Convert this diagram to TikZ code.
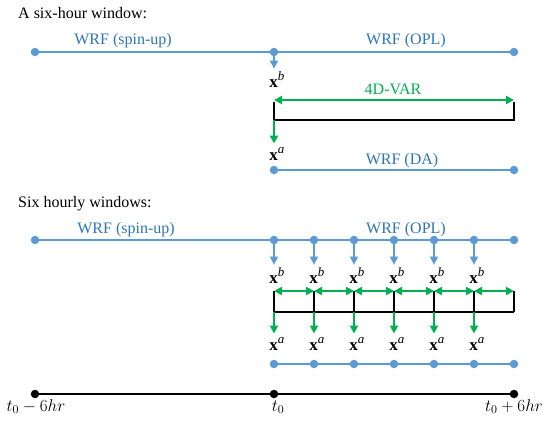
\RequirePackage{fix-cm}
\documentclass[tikz,border=0pt]{standalone}
\usepackage{fontspec}
\setmainfont{Liberation Serif}
\usetikzlibrary{arrows.meta, positioning}
\definecolor{WrfBlue}{RGB}{91,155,213}
\definecolor{WrfText}{RGB}{46,117,182}
\definecolor{VarGreen}{RGB}{0,176,80}
\newcommand{\statevec}[1]{$\mathbf{x}^{\mbox{\fontsize{13}{15}\selectfont\itshape #1}}$}

\begin{document}
\begin{tikzpicture}[
  x=1pt, y=-1pt,
  font=\fontsize{16}{19}\selectfont,
  dot/.style={circle, fill=#1, inner sep=0pt, minimum size=8.5pt},
  head/.style={anchor=base west, inner sep=0pt},
  lbl/.style={anchor=base, inner sep=0pt, text=WrfText},
  vec/.style={anchor=base, inner sep=0pt, font=\fontsize{17}{20}\selectfont},
  run/.style={draw=WrfBlue, line width=2pt},
  barr/.style={draw=WrfBlue, line width=1.6pt, -{Triangle[length=8pt, width=8pt]}, shorten >=3pt},
  garr/.style={draw=VarGreen, line width=2pt, -{Triangle[length=8pt, width=8pt]}, shorten >=4pt},
  gdbl/.style={draw=VarGreen, line width=2pt, {Triangle[length=8pt, width=8pt]}-{Triangle[length=8pt, width=8pt]}},
  brk/.style={draw=black, line width=2pt}
]
  \useasboundingbox (0,0) rectangle (550,423);

  % a six-hour window
  \node[head] (title1) at (18,18) {A six-hour window:};
  \node[dot=WrfBlue] (s1) at (35,52) {};
  \node[dot=WrfBlue] (m1) at (274,52) {};
  \node[dot=WrfBlue] (e1) at (514,52) {};
  \draw[run] (s1) -- (m1) -- (e1);
  \node[lbl] (spin1) at (123,44) {WRF (spin-up)};
  \node[lbl] (opl1) at (406,44) {WRF (OPL)};

  \node[vec] (xb1) at (277,87) {\statevec{b}};
  \draw[barr] (m1) -- (m1 |- xb1.north);

  \coordinate (bl1) at (274,102);
  \coordinate (br1) at (514,102);
  \coordinate (bb1) at (274,120);
  \draw[brk] (bl1) -- (bb1) -| (br1);
  \draw[gdbl] (274,100) -- (514,100);
  \node[anchor=base, inner sep=0pt, text=VarGreen] (var) at (393,94) {4D-VAR};

  \node[vec] (xa1) at (277,160) {\statevec{a}};
  \draw[garr] (bb1) -- (bb1 |- xa1.north);

  \node[dot=WrfBlue] (d1) at (274,170) {};
  \node[dot=WrfBlue] (d2) at (514,170) {};
  \draw[run] (d1) -- (d2);
  \node[lbl] (da) at (402,164) {WRF (DA)};

  % six hourly windows
  \node[head] (title2) at (18,207) {Six hourly windows:};
  \node[dot=WrfBlue] (s2) at (35,240) {};
  \node[dot=WrfBlue] (e2) at (514,240) {};
  \draw[run] (s2) -- (e2);
  \node[lbl] (spin2) at (126,233) {WRF (spin-up)};
  \node[lbl] (opl2) at (406,233) {WRF (OPL)};

  \draw[brk] (274,312) -- (514,312);
  \draw[brk] (514,291) -- (514,312);
  \node[dot=WrfBlue] (a6) at (514,364) {};
  \foreach \i in {0,...,5} {
    \pgfmathsetmacro{\px}{274+40*\i}
    \node[dot=WrfBlue] (m\i) at (\px,240) {};
    \node[vec] (xb\i) at (\px+3,283) {\statevec{b}};
    \draw[barr] (m\i) -- (m\i |- xb\i.north);
    \coordinate (t\i) at (\px,291);
    \coordinate (b\i) at (\px,312);
    \draw[brk] (t\i) -- (b\i);
    \draw[gdbl] (\px,291) -- (\px+40,291);
    \node[vec] (xa\i) at (\px+3,350) {\statevec{a}};
    \draw[garr] (b\i) -- (b\i |- xa\i.north);
    \node[dot=WrfBlue] (a\i) at (\px,364) {};
  }
  \draw[run] (a0) -- (a6);

  % time axis
  \node[dot=black] (p0) at (35,394) {};
  \node[dot=black] (p1) at (274,394) {};
  \node[dot=black] (p2) at (514,394) {};
  \draw[brk] (p0) -- (p1) -- (p2);
  \node[anchor=base, inner sep=0pt, font=\fontsize{17}{20}\selectfont] (tl0) at (36,411) {$t_0-6hr$};
  \node[anchor=base, inner sep=0pt, font=\fontsize{17}{20}\selectfont] (tl1) at (278,411) {$t_0$};
  \node[anchor=base, inner sep=0pt, font=\fontsize{17}{20}\selectfont] (tl2) at (514,411) {$t_0+6hr$};
\end{tikzpicture}
\end{document}
